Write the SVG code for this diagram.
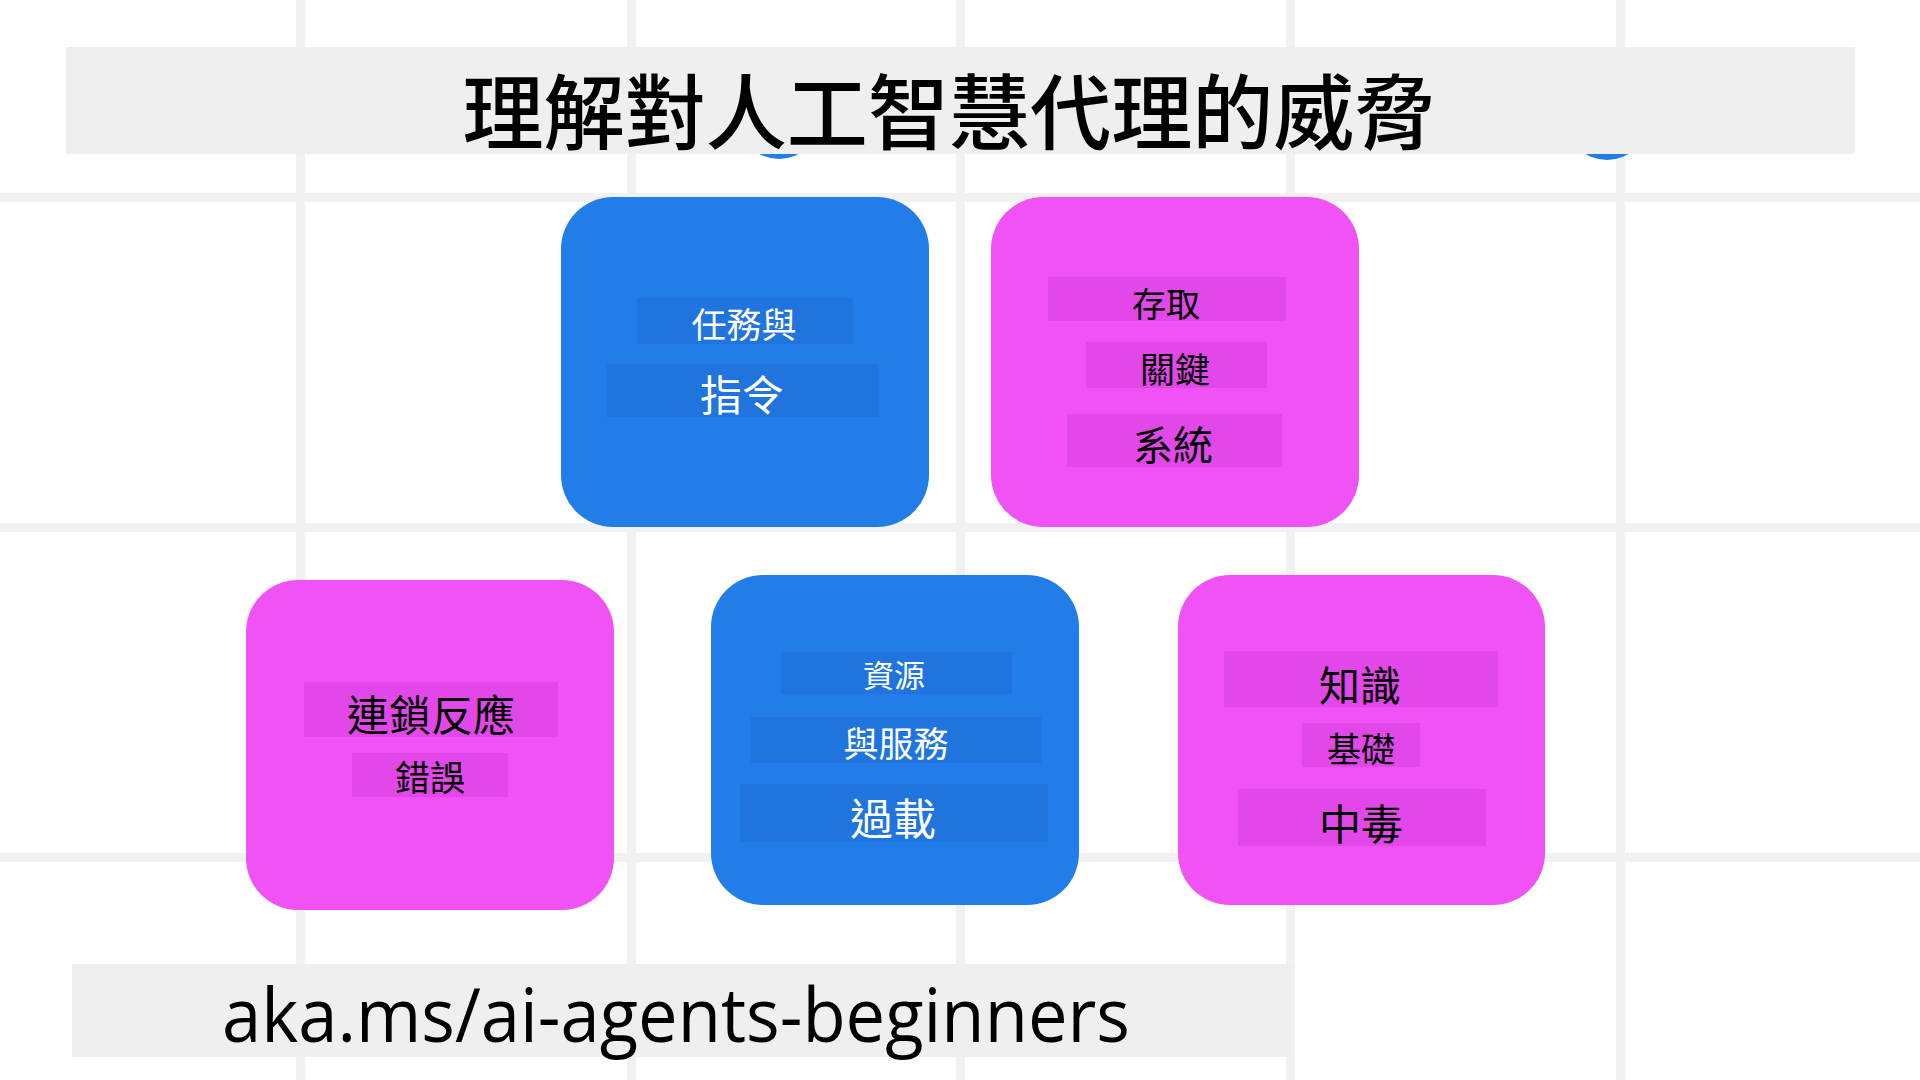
<svg xmlns="http://www.w3.org/2000/svg" width="1920" height="1080" viewBox="0 0 1920 1080">
<style>
.grid{fill:#F1F1F1}
.blue{fill:#227DE8}
.pink{fill:#F152F6}
.bbar{fill:#1F74DD}
.pbar{fill:#E247E9}
.band{fill:#EFEFEF}
.cjk{font-family:"Noto Sans CJK TC","Noto Sans CJK SC",sans-serif;text-anchor:middle}
.w{fill:#FFFFFF}
.k{fill:#000000}
</style>
<rect width="1920" height="1080" fill="#FFFFFF"/>
<g id="grid">
<rect class="grid" x="296" y="0" width="9" height="1080"/>
<rect class="grid" x="627" y="0" width="9" height="1080"/>
<rect class="grid" x="956" y="0" width="9" height="1080"/>
<rect class="grid" x="1286" y="0" width="9" height="1080"/>
<rect class="grid" x="1616" y="0" width="9" height="1080"/>
<rect class="grid" x="0" y="193" width="1920" height="9"/>
<rect class="grid" x="0" y="523" width="1920" height="9"/>
<rect class="grid" x="0" y="853" width="1920" height="9"/>
</g>
<g id="hidden-dots">
<circle class="blue" cx="779" cy="117" r="42"/>
<circle class="blue" cx="1607" cy="118" r="42"/>
</g>
<g id="title">
<rect class="band" x="66" y="47" width="1789" height="107"/>
<text class="cjk k" x="949" y="143" font-size="82" font-weight="500" textLength="973" lengthAdjust="spacingAndGlyphs">理解對人工智慧代理的威脅</text>
</g>
<g id="connectors"></g>
<g id="node-tasks">
<rect class="blue" x="561" y="197" width="368" height="330" rx="52" ry="52"/>
<rect class="bbar" x="637" y="298" width="216" height="46"/>
<rect class="bbar" x="607" y="364" width="272" height="53"/>
<text class="cjk w" x="744" y="338" font-size="35">任務與</text>
<text class="cjk w" x="742" y="411" font-size="42">指令</text>
</g>
<g id="node-keys">
<rect class="pink" x="991" y="197" width="368" height="330" rx="52" ry="52"/>
<rect class="pbar" x="1048" y="277" width="238" height="44"/>
<rect class="pbar" x="1086" y="342" width="181" height="46"/>
<rect class="pbar" x="1067" y="414" width="215" height="53"/>
<text class="cjk k" x="1166" y="317" font-size="34">存取</text>
<text class="cjk k" x="1175" y="383" font-size="35">關鍵</text>
<text class="cjk k" x="1173" y="460" font-size="40">系統</text>
</g>
<g id="node-cascade">
<rect class="pink" x="246" y="580" width="368" height="330" rx="52" ry="52"/>
<rect class="pbar" x="304" y="682" width="254" height="55"/>
<rect class="pbar" x="352" y="753" width="156" height="44"/>
<text class="cjk k" x="431" y="731" font-size="42">連鎖反應</text>
<text class="cjk k" x="430" y="791" font-size="35">錯誤</text>
</g>
<g id="node-overload">
<rect class="blue" x="711" y="575" width="368" height="330" rx="52" ry="52"/>
<rect class="bbar" x="781" y="652" width="231" height="42"/>
<rect class="bbar" x="751" y="717" width="290" height="46"/>
<rect class="bbar" x="740" y="784" width="308" height="58"/>
<text class="cjk w" x="894" y="687" font-size="31">資源</text>
<text class="cjk w" x="896" y="757" font-size="35">與服務</text>
<text class="cjk w" x="893" y="835" font-size="43">過載</text>
</g>
<g id="node-poisoning">
<rect class="pink" x="1178" y="575" width="367" height="330" rx="52" ry="52"/>
<rect class="pbar" x="1224" y="651" width="274" height="56"/>
<rect class="pbar" x="1302" y="723" width="118" height="44"/>
<rect class="pbar" x="1238" y="789" width="248" height="57"/>
<text class="cjk k" x="1360" y="701" font-size="41">知識</text>
<text class="cjk k" x="1361" y="762" font-size="34">基礎</text>
<text class="cjk k" x="1361" y="840" font-size="42">中毒</text>
</g>
<g id="footer">
<rect class="band" x="72" y="964" width="1222" height="93"/>
<text x="222" y="1042" font-family="'Open Sans','Noto Sans',sans-serif" font-size="75" fill="#000000" textLength="908" lengthAdjust="spacingAndGlyphs">aka.ms/ai-agents-beginners</text>
</g>
</svg>
